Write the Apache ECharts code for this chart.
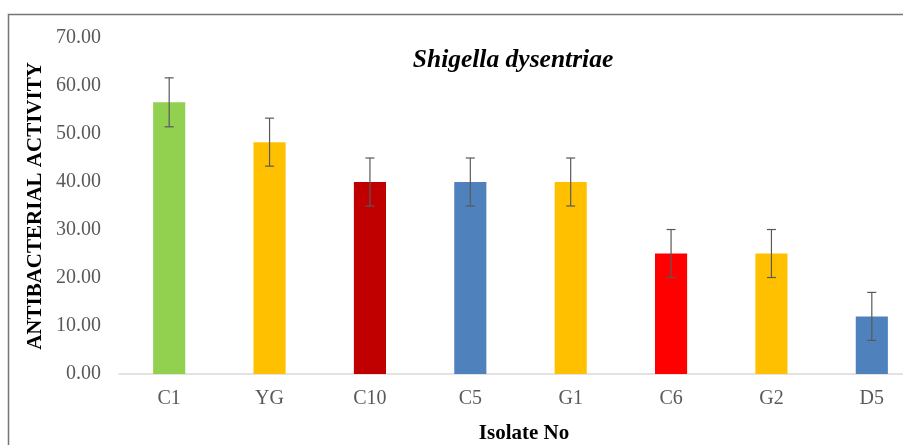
<!DOCTYPE html>
<html>
<head>
<meta charset="utf-8">
<script src="https://cdn.jsdelivr.net/npm/echarts@6/dist/echarts.min.js"></script>
<style>
  html, body { margin: 0; padding: 0; background: #fff; overflow: hidden; }
  /* the original plot runs past the right edge of the picture, so the canvas is wider than the window */
  #chart { width: 922px; height: 445px; }
</style>
</head>
<body>
<div id="chart"></div>
<script>
const isolates = ["C1", "YG", "C10", "C5", "G1", "C6", "G2", "D5"];
const activity = [56.6, 48.3, 40.0, 40.0, 40.0, 25.1, 25.1, 12.0];
const errors = [5.1, 5.0, 5.0, 5.0, 5.0, 5.0, 5.0, 5.0];
const barColors = ["#92D050", "#FFC000", "#C00000", "#4F81BD", "#FFC000", "#FF0000", "#FFC000", "#4F81BD"];

const chart = echarts.init(document.getElementById("chart"));

const errorData = isolates.map((name, i) => [i, activity[i] - errors[i], activity[i] + errors[i]]);

chart.setOption({
    backgroundColor: "#fff",
    animation: false,
    title: [
        {
            text: "Shigella dysentriae",
            left: 508,
            top: 42,
            textAlign: "center",
            textStyle: { fontFamily: "Liberation Serif", fontStyle: "italic", fontWeight: "bold", fontSize: 25.5, color: "#000" },
        },
        {
            text: "Isolate No",
            left: 519,
            top: 418,
            textAlign: "center",
            textStyle: { fontFamily: "Liberation Serif", fontWeight: "bold", fontSize: 21, color: "#000" },
        },
    ],
    graphic: [
        {
            type: "polyline",
            shape: { points: [[8.5, 445], [8.5, 14.5], [922, 14.5]] },
            style: { stroke: "#767676", lineWidth: 1.5, fill: null },
        },
        {
            type: "text",
            x: 36,
            y: 206,
            rotation: Math.PI / 2,
            style: {
                text: "ANTIBACTERIAL ACTIVITY",
                font: "bold 21px 'Liberation Serif'",
                fill: "#000",
                align: "center",
                verticalAlign: "middle",
            },
        },
    ],
    grid: { left: 119, right: 0, top: 38, bottom: 71 },
    xAxis: {
        type: "category",
        data: isolates,
        axisLine: { lineStyle: { color: "#D9D9D9", width: 1.5 } },
        axisTick: { show: false },
        axisLabel: { color: "#595959", fontFamily: "Liberation Serif", fontSize: 20, margin: 15 },
    },
    yAxis: {
        type: "value",
        min: 0,
        max: 70,
        interval: 10,
        axisLine: { show: false },
        axisTick: { show: false },
        splitLine: { show: false },
        axisLabel: {
            color: "#595959",
            fontFamily: "Liberation Serif",
            fontSize: 20,
            margin: 18,
            formatter: (v) => v.toFixed(2),
        },
    },
    series: [
        {
            type: "bar",
            data: activity.map((v, i) => ({ value: v, itemStyle: { color: barColors[i] } })),
            barWidth: "32%",
        },
        {
            type: "custom",
            data: errorData,
            z: 10,
            renderItem: (params, api) => {
                const x = api.value(0);
                const lo = api.coord([x, api.value(1)]);
                const hi = api.coord([x, api.value(2)]);
                const cap = 4.5;
                const style = { stroke: "#595959", lineWidth: 1.2 };
                return {
                    type: "group",
                    children: [
                        { type: "line", shape: { x1: hi[0], y1: hi[1], x2: lo[0], y2: lo[1] }, style },
                        { type: "line", shape: { x1: hi[0] - cap, y1: hi[1], x2: hi[0] + cap, y2: hi[1] }, style },
                        { type: "line", shape: { x1: lo[0] - cap, y1: lo[1], x2: lo[0] + cap, y2: lo[1] }, style },
                    ],
                };
            },
        },
    ],
});
</script>
</body>
</html>
